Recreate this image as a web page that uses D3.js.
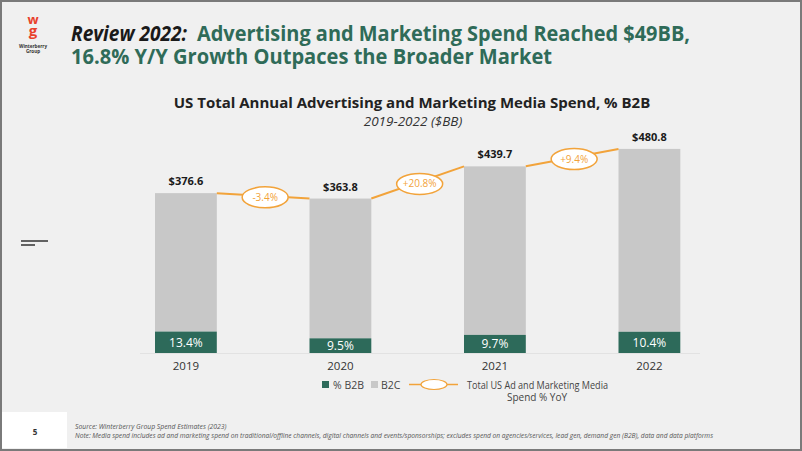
<!DOCTYPE html>
<html><head><meta charset="utf-8">
<script src="https://cdn.jsdelivr.net/npm/d3@7"></script>
<style>html,body{margin:0;padding:0;background:#f0f0f0;}svg{display:block;}</style>
</head><body>
<script>
const years = ["2019", "2020", "2021", "2022"];
const totals = [376.6, 363.8, 439.7, 480.8];
const b2bShare = [13.4, 9.5, 9.7, 10.4];
const yoyGrowth = [-3.4, 20.8, 9.4];

const W = 802, H = 451;
const green = "#2d6a5a", gray = "#c8c8c8", orange = "#f2a33a", titleGreen = "#2f6b58";
const svg = d3.select("body").append("svg").attr("width", W).attr("height", H);

svg.append("rect").attr("x", 0).attr("y", 0).attr("width", W).attr("height", H).attr("fill", "#f0f0f0");

// logo
const logo = svg.append("text").attr("text-anchor", "middle").attr("font-family", "Open Sans")
  .attr("font-weight", 700).attr("fill", "#e8412c");
logo.append("tspan").attr("x", 33).attr("y", 24).attr("font-size", 13).text("w");
logo.append("tspan").attr("x", 33).attr("y", 36).attr("font-size", 15).text("g");
const logoTxt = svg.append("text").attr("text-anchor", "middle").attr("font-family", "Open Sans")
  .attr("font-weight", 700).attr("font-size", 4.6).attr("fill", "#333");
logoTxt.append("tspan").attr("x", 33).attr("y", 48).text("Winterberry");
logoTxt.append("tspan").attr("x", 33).attr("y", 53).text("Group");

// headline
function htext(x, y, len, txt, fill, italic) {
  const t = svg.append("text").attr("x", x).attr("y", y).attr("textLength", len)
    .attr("lengthAdjust", "spacingAndGlyphs").attr("fill", fill)
    .attr("font-family", "Open Sans").attr("font-weight", 700).attr("font-size", 22).text(txt);
  if (italic) t.attr("font-style", "italic");
}
htext(71, 41, 116, "Review 2022:", "#1a1a1a", true);
htext(197, 41, 493, "Advertising and Marketing Spend Reached $49BB,", titleGreen, false);
htext(71, 64, 481, "16.8% Y/Y Growth Outpaces the Broader Market", titleGreen, false);

// chart title
svg.append("text").attr("x", 412).attr("y", 108).attr("text-anchor", "middle")
  .attr("font-family", "Open Sans").attr("font-weight", 700).attr("font-size", 15).attr("fill", "#222")
  .text("US Total Annual Advertising and Marketing Media Spend, % B2B");
svg.append("text").attr("x", 413).attr("y", 126).attr("text-anchor", "middle")
  .attr("font-family", "Open Sans").attr("font-style", "italic").attr("font-size", 13.5).attr("fill", "#333")
  .text("2019-2022 ($BB)");

// left decoration
svg.append("line").attr("x1", 21).attr("x2", 48).attr("y1", 241).attr("y2", 241).attr("stroke", "#333").attr("stroke-width", 1.5);
svg.append("line").attr("x1", 21).attr("x2", 35).attr("y1", 245).attr("y2", 245).attr("stroke", "#333").attr("stroke-width", 1.5);

// scales
const x = d3.scaleBand().domain(years).range([108.65, 726.65]).paddingInner(0.6).paddingOuter(0.3);
const y = d3.scaleLinear().domain([0, 500]).range([353, 353 - 500 * 0.4245]);
const bw = x.bandwidth();

const data = years.map((yr, i) => ({yr, total: totals[i], share: b2bShare[i], b2b: totals[i] * b2bShare[i] / 100}));

svg.append("line").attr("x1", 140).attr("x2", 700).attr("y1", y(0) + 0.5).attr("y2", y(0) + 0.5).attr("stroke", "#e2e2e2");

const g = svg.append("g");
g.selectAll(".b2c").data(data).join("rect")
  .attr("x", d => x(d.yr)).attr("width", bw)
  .attr("y", d => y(d.total)).attr("height", d => y(d.b2b) - y(d.total)).attr("fill", gray);
g.selectAll(".b2b").data(data).join("rect")
  .attr("x", d => x(d.yr)).attr("width", bw)
  .attr("y", d => y(d.b2b)).attr("height", d => y(0) - y(d.b2b)).attr("fill", green);
g.selectAll(".pct").data(data).join("text")
  .attr("x", d => x(d.yr) + bw / 2).attr("y", d => (y(d.b2b) + y(0)) / 2 + 4.5)
  .attr("text-anchor", "middle").attr("font-family", "Open Sans").attr("font-size", 12).attr("fill", "#fff")
  .text(d => d.share.toFixed(1) + "%");
g.selectAll(".val").data(data).join("text")
  .attr("x", d => x(d.yr) + bw / 2).attr("y", d => y(d.total) - 8)
  .attr("text-anchor", "middle").attr("font-family", "Open Sans").attr("font-weight", 700).attr("font-size", 11).attr("fill", "#1a1a1a")
  .text(d => "$" + d.total.toFixed(1));

// x axis labels
const xa = svg.append("g").attr("transform", `translate(0,${y(0)})`)
  .call(d3.axisBottom(x).tickSize(0).tickPadding(9));
xa.select(".domain").remove();
xa.selectAll("text").attr("font-family", "Open Sans").attr("font-size", 11.5).attr("fill", "#333");

// yoy line
const segs = yoyGrowth.map((v, i) => ({
  x1: x(years[i]) + bw, y1: y(totals[i]), x2: x(years[i + 1]), y2: y(totals[i + 1]), v
}));
g.selectAll(".seg").data(segs).join("line")
  .attr("x1", d => d.x1).attr("y1", d => d.y1).attr("x2", d => d.x2).attr("y2", d => d.y2)
  .attr("stroke", orange).attr("stroke-width", 2);
g.selectAll(".ell").data(segs).join("ellipse")
  .attr("cx", d => (d.x1 + d.x2) / 2 + 2).attr("cy", d => (d.y1 + d.y2) / 2 + 1.5)
  .attr("rx", 23).attr("ry", 10.5).attr("fill", "#fff").attr("stroke", orange).attr("stroke-width", 1.5);
g.selectAll(".yoy").data(segs).join("text")
  .attr("x", d => (d.x1 + d.x2) / 2 + 2).attr("y", d => (d.y1 + d.y2) / 2 + 5)
  .attr("text-anchor", "middle").attr("font-family", "Open Sans").attr("font-size", 10).attr("fill", orange)
  .text(d => (d.v > 0 ? "+" : "") + d.v.toFixed(1) + "%");

// legend
const lg = svg.append("g").attr("font-family", "Open Sans").attr("font-size", 10.5).attr("fill", "#444");
lg.append("rect").attr("x", 322).attr("y", 381).attr("width", 7).attr("height", 7).attr("fill", green);
lg.append("text").attr("x", 333).attr("y", 389).text("% B2B");
lg.append("rect").attr("x", 371).attr("y", 381).attr("width", 7).attr("height", 7).attr("fill", gray);
lg.append("text").attr("x", 381).attr("y", 389).text("B2C");
lg.append("line").attr("x1", 409).attr("x2", 458).attr("y1", 384.5).attr("y2", 384.5).attr("stroke", orange).attr("stroke-width", 1.5);
lg.append("ellipse").attr("cx", 434).attr("cy", 384.5).attr("rx", 13).attr("ry", 5).attr("fill", "#fff").attr("stroke", orange).attr("stroke-width", 1.2);
lg.append("text").attr("x", 467).attr("y", 389).attr("font-size", 10).attr("textLength", 141).attr("lengthAdjust", "spacingAndGlyphs")
  .text("Total US Ad and Marketing Media");
lg.append("text").attr("x", 537).attr("y", 401).attr("text-anchor", "middle").attr("font-size", 10).text("Spend % YoY");

// footer
svg.append("rect").attr("x", 2).attr("y", 412).attr("width", 65).attr("height", 36).attr("fill", "#fff");
svg.append("text").attr("x", 35).attr("y", 435).attr("text-anchor", "middle").attr("font-family", "Open Sans")
  .attr("font-weight", 700).attr("font-size", 8).attr("fill", "#333").text("5");
svg.append("text").attr("x", 75).attr("y", 429).attr("font-family", "Open Sans").attr("font-style", "italic")
  .attr("font-size", 6.8).attr("fill", "#555").text("Source: Winterberry Group Spend Estimates (2023)");
svg.append("text").attr("x", 75).attr("y", 438).attr("font-family", "Open Sans").attr("font-style", "italic")
  .attr("font-size", 6.8).attr("fill", "#555").attr("textLength", 638).attr("lengthAdjust", "spacingAndGlyphs")
  .text("Note: Media spend includes ad and marketing spend on traditional/offline channels, digital channels and events/sponsorships; excludes spend on agencies/services, lead gen, demand gen (B2B), data and data platforms");

// border
svg.append("rect").attr("x", 1).attr("y", 1).attr("width", W - 2).attr("height", H - 2)
  .attr("fill", "none").attr("stroke", "#7a7a7a").attr("stroke-width", 2);
</script>
</body></html>
